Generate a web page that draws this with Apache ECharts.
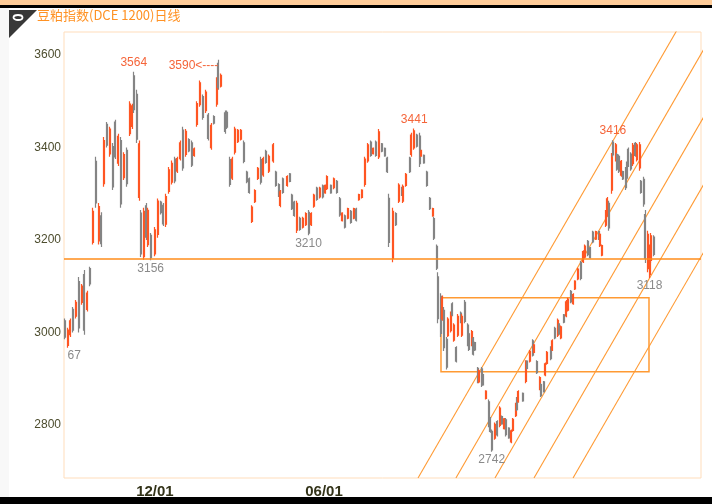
<!DOCTYPE html>
<html>
<head>
<meta charset="utf-8">
<script src="https://cdn.jsdelivr.net/npm/echarts@6/dist/echarts.min.js"></script>
<style>
html, body { margin: 0; padding: 0; background: #fff; }
#main { width: 712px; height: 504px; }
</style>
</head>
<body>
<div id="main"></div>
<script>
"use strict";

// 图上的交易日格数
const dayCount = 452;

// 每根K线所在的交易日序号
const days = [
    0, 2, 4, 6, 8, 10, 12, 14, 16, 18,
    20, 22, 24, 26, 28, 30, 32, 34, 36, 38,
    40, 42, 44, 46, 48, 49, 51, 53, 54, 56,
    58, 59, 61, 64, 66, 68, 70, 72, 74, 76,
    78, 80, 82, 84, 86, 88, 90, 92, 94, 96,
    98, 100, 102, 104, 106, 108, 109, 111, 114, 115,
    117, 119, 121, 123, 125, 127, 129, 131, 133, 135,
    137, 139, 141, 143, 145, 148, 150, 152, 153, 155,
    158, 160, 161, 163, 165, 167, 169, 171, 173, 175,
    177, 179, 181, 183, 185, 186, 189, 191, 193, 195,
    197, 199, 201, 203, 205, 207, 209, 211, 213, 215,
    217, 219, 221, 223, 225, 227, 229, 230, 233, 235,
    237, 239, 240, 242, 245, 246, 248, 250, 252, 253,
    255, 257, 259, 261, 262, 264, 265, 267, 268, 269,
    271, 272, 274, 275, 276, 278, 279, 281, 282, 284,
    286, 287, 289, 290, 291, 293, 294, 296, 297, 299,
    301, 302, 303, 305, 307, 309, 310, 312, 313, 315,
    317, 318, 320, 321, 322, 325, 327, 328, 330, 332,
    333, 335, 337, 338, 340, 341, 342, 345, 346, 348,
    350, 351, 352, 354, 356, 357, 359, 361, 362, 364,
    366, 368, 369, 371, 373, 375, 377, 379, 380, 381,
    384, 385, 386, 388, 389, 391, 392, 393, 395, 396,
    398, 399, 400, 402, 403, 405, 406, 408, 409, 411,
    412, 414, 415, 416, 418
];

const opens = [
    3025, 2972, 2995, 3050, 3035, 3110, 3065, 3125, 3050, 3138,
    3195, 3370, 3198, 3252, 3322, 3450, 3386, 3402, 3455, 3366,
    3415, 3335, 3394, 3430, 3446, 3555, 3515, 3292, 3258, 3164,
    3274, 3190, 3210, 3170, 3212, 3282, 3275, 3234, 3305, 3325,
    3375, 3349, 3376, 3438, 3385, 3417, 3410, 3383, 3450, 3493,
    3510, 3480, 3470, 3400, 3467, 3494, 3582, 3533, 3475, 3476,
    3374, 3334, 3390, 3413, 3418, 3410, 3347, 3332, 3240, 3283,
    3333, 3374, 3341, 3392, 3349, 3371, 3347, 3320, 3275, 3332,
    3318, 3343, 3297, 3282, 3221, 3247, 3228, 3233, 3260, 3233,
    3273, 3312, 3293, 3317, 3302, 3311, 3318, 3313, 3327, 3289,
    3242, 3252, 3247, 3262, 3247, 3267, 3287, 3292, 3320, 3371,
    3412, 3387, 3412, 3380, 3408, 3398, 3377, 3290, 3160, 3257,
    3284, 3313, 3284, 3318, 3377, 3385, 3399, 3427, 3425, 3382,
    3383, 3347, 3290, 3252, 3246, 3186, 3120, 3078, 3029, 3048,
    2985, 2993, 3004, 3062, 2983, 2967, 2994, 3042, 2994, 3065,
    3016, 2997, 2973, 2987, 2978, 2922, 2893, 2921, 2908, 2857,
    2850, 2814, 2786, 2771, 2807, 2799, 2818, 2792, 2811, 2793,
    2763, 2788, 2820, 2857, 2850, 2868, 2894, 2938, 2938, 2982,
    2957, 2937, 2878, 2887, 2893, 2908, 2933, 2967, 2962, 3009,
    2994, 3018, 2988, 3038, 3036, 3048, 3089, 3062, 3094, 3116,
    3151, 3153, 3163, 3197, 3183, 3217, 3202, 3218, 3188, 3167,
    3232, 3254, 3279, 3308, 3412, 3374, 3385, 3381, 3340, 3348,
    3353, 3366, 3396, 3386, 3365, 3409, 3374, 3356, 3327, 3331,
    3255, 3138, 3125, 3156, 3206
];

const closes = [
    2990, 3005, 3025, 3005, 3065, 3010, 3100, 3005, 3085, 3105,
    3262, 3280, 3272, 3192, 3415, 3405, 3440, 3315, 3380, 3424,
    3278, 3385, 3322, 3494, 3490, 3482, 3418, 3408, 3170, 3262,
    3206, 3264, 3162, 3222, 3284, 3259, 3235, 3294, 3352, 3366,
    3328, 3376, 3410, 3356, 3435, 3393, 3362, 3397, 3495, 3540,
    3465, 3520, 3420, 3448, 3453, 3546, 3530, 3556, 3435, 3444,
    3320, 3375, 3440, 3437, 3437, 3370, 3326, 3303, 3271, 3307,
    3355, 3325, 3376, 3368, 3381, 3406, 3318, 3296, 3304, 3303,
    3337, 3327, 3268, 3253, 3279, 3223, 3247, 3257, 3215, 3257,
    3297, 3288, 3312, 3293, 3318, 3337, 3302, 3332, 3303, 3254,
    3258, 3228, 3268, 3238, 3268, 3243, 3298, 3308, 3375, 3406,
    3383, 3398, 3383, 3434, 3392, 3382, 3348, 3195, 3262, 3233,
    3319, 3297, 3316, 3342, 3348, 3427, 3436, 3403, 3365, 3393,
    3367, 3318, 3268, 3268, 3204, 3139, 3030, 2998, 3075, 2967,
    2925, 3029, 3041, 3038, 3016, 2938, 3035, 3023, 3035, 3024,
    2974, 2963, 3002, 2953, 2962, 2893, 2917, 2886, 2887, 2873,
    2800, 2786, 2746, 2801, 2778, 2836, 2802, 2813, 2779, 2772,
    2787, 2812, 2845, 2833, 2872, 2852, 2936, 2922, 2959, 2951,
    2973, 2913, 2902, 2863, 2872, 2932, 2957, 2943, 2982, 2988,
    3026, 2997, 3012, 3022, 3066, 3072, 3066, 3082, 3111, 3137,
    3117, 3175, 3187, 3168, 3162, 3196, 3218, 3202, 3212, 3188,
    3261, 3289, 3226, 3380, 3384, 3406, 3353, 3349, 3370, 3332,
    3313, 3334, 3362, 3354, 3405, 3383, 3406, 3406, 3303, 3278,
    3160, 3212, 3183, 3209, 3169
];

const lows = [
    2985, 2967, 2990, 3000, 3030, 3000, 3060, 2995, 3045, 3100,
    3190, 3270, 3190, 3185, 3315, 3400, 3380, 3308, 3375, 3360,
    3270, 3330, 3315, 3425, 3440, 3475, 3410, 3285, 3163, 3157,
    3200, 3185, 3156, 3165, 3205, 3255, 3230, 3228, 3300, 3320,
    3323, 3345, 3372, 3350, 3380, 3390, 3358, 3380, 3445, 3488,
    3460, 3475, 3415, 3395, 3450, 3488, 3525, 3530, 3430, 3440,
    3315, 3330, 3385, 3410, 3415, 3366, 3323, 3300, 3237, 3280,
    3330, 3320, 3337, 3365, 3345, 3367, 3315, 3293, 3271, 3300,
    3315, 3325, 3265, 3250, 3215, 3220, 3225, 3230, 3210, 3230,
    3270, 3285, 3290, 3290, 3300, 3308, 3300, 3310, 3300, 3250,
    3240, 3225, 3245, 3235, 3245, 3240, 3285, 3290, 3315, 3367,
    3380, 3385, 3380, 3375, 3390, 3380, 3345, 3185, 3152, 3230,
    3280, 3295, 3280, 3315, 3345, 3380, 3395, 3400, 3358, 3380,
    3365, 3315, 3265, 3250, 3200, 3135, 3020, 2990, 3025, 2960,
    2920, 2990, 3000, 3035, 2980, 2935, 2990, 3020, 2990, 3020,
    2970, 2960, 2970, 2950, 2960, 2890, 2890, 2882, 2885, 2855,
    2795, 2783, 2742, 2768, 2775, 2795, 2800, 2790, 2775, 2770,
    2760, 2785, 2817, 2830, 2848, 2850, 2890, 2920, 2935, 2948,
    2955, 2910, 2875, 2860, 2870, 2905, 2930, 2940, 2960, 2985,
    2990, 2995, 2985, 3020, 3033, 3045, 3063, 3060, 3092, 3113,
    3113, 3150, 3160, 3165, 3160, 3193, 3200, 3200, 3185, 3165,
    3228, 3250, 3220, 3300, 3380, 3370, 3350, 3345, 3337, 3330,
    3308, 3330, 3358, 3350, 3360, 3380, 3370, 3350, 3300, 3272,
    3150, 3130, 3118, 3150, 3165
];

const highs = [
    3030, 3010, 3030, 3055, 3070, 3120, 3105, 3135, 3090, 3142,
    3270, 3380, 3280, 3260, 3423, 3455, 3445, 3410, 3460, 3430,
    3423, 3390, 3400, 3500, 3495, 3564, 3525, 3415, 3265, 3270,
    3280, 3270, 3215, 3228, 3290, 3285, 3280, 3300, 3358, 3372,
    3380, 3380, 3415, 3445, 3440, 3420, 3415, 3400, 3500, 3545,
    3515, 3525, 3475, 3453, 3470, 3552, 3590, 3560, 3480, 3480,
    3380, 3380, 3445, 3440, 3440, 3415, 3350, 3335, 3275, 3310,
    3358, 3380, 3380, 3395, 3385, 3410, 3350, 3323, 3308, 3335,
    3340, 3345, 3300, 3285, 3285, 3250, 3250, 3260, 3265, 3260,
    3300, 3315, 3315, 3320, 3320, 3340, 3320, 3335, 3330, 3293,
    3260, 3255, 3270, 3265, 3270, 3270, 3300, 3310, 3380, 3410,
    3415, 3400, 3415, 3440, 3410, 3400, 3380, 3300, 3270, 3260,
    3323, 3315, 3320, 3345, 3380, 3432, 3441, 3430, 3432, 3395,
    3385, 3350, 3293, 3270, 3250, 3190, 3130, 3085, 3080, 3055,
    2990, 3033, 3045, 3065, 3020, 2970, 3040, 3045, 3040, 3070,
    3020, 3000, 3005, 2990, 2980, 2925, 2920, 2925, 2910, 2875,
    2855, 2817, 2790, 2805, 2810, 2840, 2820, 2815, 2815, 2795,
    2790, 2815, 2848, 2860, 2875, 2870, 2940, 2940, 2962, 2985,
    2975, 2940, 2905, 2890, 2895, 2935, 2960, 2970, 2985, 3012,
    3030, 3020, 3015, 3040, 3070, 3075, 3092, 3085, 3113, 3140,
    3155, 3178, 3190, 3200, 3185, 3220, 3220, 3220, 3215, 3190,
    3265, 3293, 3285, 3388, 3416, 3410, 3388, 3385, 3373, 3350,
    3358, 3370, 3400, 3390, 3410, 3412, 3410, 3412, 3330, 3337,
    3265, 3220, 3190, 3215, 3210
];

// 坐标轴刻度
const yTicks = [2800, 3000, 3200, 3400, 3600];
const xTickDays = [64, 184];
const xTickText = ['12/01', '06/01'];

// 高点、低点标注
const peakDays = [49, 248, 389];
const peakValues = [3564, 3441, 3416];
const troughDays = [61, 173, 303, 415];
const troughValues = [3156, 3210, 2742, 3118];
// 左边被截掉一半的低点 2967
const cutTroughDay = 2;
const cutTroughValue = 2967;
// 带箭头的最高点
const arrowPeakDay = 109;
const arrowPeakValue = 3590;

// 画线：水平支撑线、箱体、平行通道
const supportLevel = 3160;
const boxDays = [267, 414.6];
const boxPrices = [3075, 2915];
const channelStartDays = [250.7, 277.6, 305.3, 333.0, 360.7];
const channelStartPrice = 2685;
const channelSpanDays = 190;
const channelEndPrice = 3687;

const chart = echarts.init(document.getElementById('main'), null, { renderer: 'canvas' });

const upColor = '#FF5522';
const downColor = '#848484';
const lineColor = '#FF9A33';
const numFont = 'Liberation Sans';

const categories = [];
const candles = [];
for (let i = 0; i < dayCount; i++) {
    categories.push(String(i));
    candles.push(['-', '-', '-', '-']);
}
days.forEach((d, i) => {
    candles[d] = [opens[i], closes[i], lows[i], highs[i]];
});

const markPoints = [];
peakDays.forEach((d, i) => {
    markPoints.push({
        coord: [d, peakValues[i]],
        value: peakValues[i],
        label: { position: 'top', distance: 3, color: '#F5653A' }
    });
});
troughDays.forEach((d, i) => {
    markPoints.push({
        coord: [d, troughValues[i]],
        value: troughValues[i],
        label: { position: 'bottom', distance: 2, color: '#8A8A8A' }
    });
});
markPoints.push({
    coord: [cutTroughDay, cutTroughValue],
    value: cutTroughValue,
    label: {
        position: 'bottom', distance: 2, align: 'left', color: '#8A8A8A',
        formatter: () => String(cutTroughValue).slice(2)
    }
});
markPoints.push({
    coord: [arrowPeakDay, arrowPeakValue],
    value: arrowPeakValue,
    label: {
        position: 'left', distance: 0, offset: [0, 6], color: '#F5653A',
        formatter: () => arrowPeakValue + '<----'
    }
});

const channelSeries = channelStartDays.map((d, k) => ({
    type: 'line',
    xAxisIndex: 1,
    yAxisIndex: 0,
    data: [[d, channelStartPrice], [d + channelSpanDays, channelEndPrice]],
    symbol: 'none',
    silent: true,
    clip: true,
    z: 1,
    lineStyle: { color: lineColor, width: 1.1 },
    markArea: k === 0 ? {
        silent: true,
        itemStyle: { color: 'rgba(0,0,0,0)', borderColor: lineColor, borderWidth: 1.5 },
        data: [[{ coord: [boxDays[0], boxPrices[0]] }, { coord: [boxDays[1], boxPrices[1]] }]]
    } : undefined
}));

const option = {
    animation: false,
    backgroundColor: '#ffffff',
    grid: {
        left: 64, right: 11, top: 32, bottom: 26,
        show: true,
        backgroundColor: '#ffffff',
        borderColor: '#FFDDBB',
        borderWidth: 1
    },
    xAxis: [{
        type: 'category',
        data: categories,
        boundaryGap: true,
        axisLine: { show: false },
        axisTick: { show: false },
        splitLine: { show: false },
        axisLabel: {
            interval: (index) => xTickDays.includes(index),
            formatter: (value) => xTickText[xTickDays.indexOf(Number(value))] || '',
            color: '#333319',
            fontWeight: 'bold',
            fontSize: 15,
            fontFamily: numFont,
            margin: 6
        }
    }, {
        type: 'value',
        min: -0.5,
        max: dayCount - 0.5,
        show: false
    }],
    yAxis: {
        type: 'value',
        min: 2685,
        max: 3650,
        axisLine: { show: false },
        axisTick: { show: false },
        splitLine: { show: false },
        axisLabel: {
            customValues: yTicks,
            formatter: (v) => String(v),
            color: '#4D4D2E',
            fontSize: 12,
            fontFamily: numFont,
            margin: 3
        }
    },
    graphic: [
        { type: 'rect', shape: { x: 0, y: 8, width: 9, height: 489 }, style: { fill: '#F8F8F8' } },
        { type: 'rect', shape: { x: 0, y: 0, width: 712, height: 5 }, style: { fill: '#FFCC99' } },
        { type: 'rect', shape: { x: 0, y: 5, width: 712, height: 3 }, style: { fill: '#000000' } },
        { type: 'rect', shape: { x: 0, y: 497, width: 712, height: 7 }, style: { fill: '#000000' } },
        { type: 'polygon', shape: { points: [[9, 10], [37, 10], [9, 38]] }, style: { fill: '#383838' } },
        { type: 'ellipse', shape: { cx: 18, cy: 17.5, rx: 4.5, ry: 2.5 }, style: { fill: 'none', stroke: '#ffffff', lineWidth: 1.8 } },
        {
            type: 'text', left: 37, top: 9,
            style: {
                text: '豆粕指数(DCE 1200)日线',
                fill: '#FF9224',
                font: '13px "Noto Sans CJK SC"'
            }
        }
    ],
    series: [{
        type: 'candlestick',
        xAxisIndex: 0,
        yAxisIndex: 0,
        data: candles,
        barWidth: 1.5,
        z: 3,
        itemStyle: {
            color: upColor,
            color0: downColor,
            borderColor: upColor,
            borderColor0: downColor,
            borderWidth: 1.2
        },
        markLine: {
            silent: true,
            symbol: 'none',
            label: { show: false },
            lineStyle: { color: '#FF8C1A', width: 1.5, type: 'solid' },
            data: [{ yAxis: supportLevel }]
        },
        markPoint: {
            symbol: 'circle',
            symbolSize: 0,
            silent: true,
            label: { show: true, fontSize: 12, fontFamily: numFont },
            data: markPoints
        }
    }].concat(channelSeries)
};

chart.setOption(option);
</script>
</body>
</html>
